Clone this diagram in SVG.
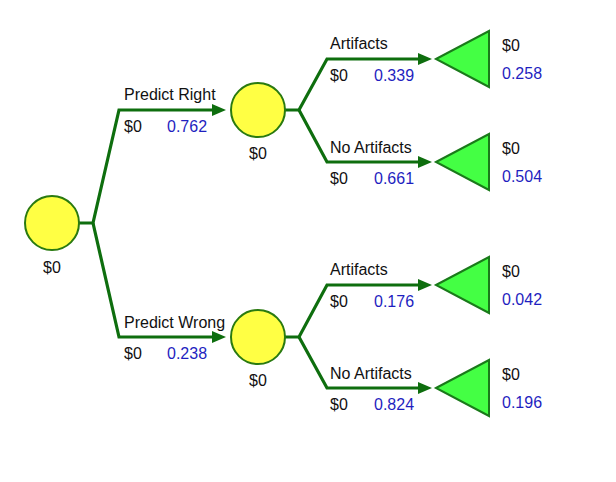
<svg xmlns="http://www.w3.org/2000/svg" width="616" height="482" viewBox="0 0 616 482">
<style>
.edge{fill:none;stroke:#0e6e0e;stroke-width:3.2;stroke-linejoin:miter}
.chance{fill:#ffff44;stroke:#2a7a10;stroke-width:2}
.term{fill:#44ff44;stroke:#1a7a1a;stroke-width:2}
text{font-family:"Liberation Sans",Arial,sans-serif;font-size:16px}
.k{fill:#111}
.p{fill:#1f1fbf}
.c{text-anchor:middle}
</style>
<defs>
<marker id="arr" markerUnits="userSpaceOnUse" markerWidth="14" markerHeight="12" refX="0" refY="6" orient="auto">
<path d="M0,0 L14,6 L0,12 z" fill="#0e6e0e"/>
</marker>
</defs>
<rect width="616" height="482" fill="#fff"/>
<g id="connectors">
<path class="edge" marker-end="url(#arr)" d="M79,223 H93 L119,110 H212"/>
<path class="edge" marker-end="url(#arr)" d="M93,223 L119,337 H212"/>
<path class="edge" marker-end="url(#arr)" d="M285,110 H299 L327,59 H418"/>
<path class="edge" marker-end="url(#arr)" d="M299,110 L327,162 H418"/>
<path class="edge" marker-end="url(#arr)" d="M285,337 H299 L327,285 H418"/>
<path class="edge" marker-end="url(#arr)" d="M299,337 L327,388 H418"/>
<text class="k" x="124" y="100">Predict Right</text>
<text class="k" x="124" y="132">$0</text>
<text class="p" x="167" y="132">0.762</text>
<text class="k" x="124" y="328">Predict Wrong</text>
<text class="k" x="124" y="359">$0</text>
<text class="p" x="167" y="359">0.238</text>
<text class="k" x="330" y="49">Artifacts</text>
<text class="k" x="330" y="81">$0</text>
<text class="p" x="374" y="81">0.339</text>
<text class="k" x="330" y="153">No Artifacts</text>
<text class="k" x="330" y="184">$0</text>
<text class="p" x="374" y="184">0.661</text>
<text class="k" x="330" y="275">Artifacts</text>
<text class="k" x="330" y="307">$0</text>
<text class="p" x="374" y="307">0.176</text>
<text class="k" x="330" y="379">No Artifacts</text>
<text class="k" x="330" y="410">$0</text>
<text class="p" x="374" y="410">0.824</text>
</g>
<g id="root">
<circle class="chance" cx="52" cy="223" r="27"/>
<text class="k c" x="52" y="273">$0</text>
</g>
<g id="predict-right">
<circle class="chance" cx="258" cy="110" r="27"/>
<text class="k c" x="258" y="159">$0</text>
</g>
<g id="predict-wrong">
<circle class="chance" cx="258" cy="337" r="27"/>
<text class="k c" x="258" y="386">$0</text>
</g>
<g id="end-right-artifacts">
<polygon class="term" points="436,59 489,31 489,87"/>
<text class="k" x="502" y="51">$0</text>
<text class="p" x="502" y="79">0.258</text>
</g>
<g id="end-right-noartifacts">
<polygon class="term" points="436,162 489,134 489,190"/>
<text class="k" x="502" y="154">$0</text>
<text class="p" x="502" y="182">0.504</text>
</g>
<g id="end-wrong-artifacts">
<polygon class="term" points="436,285 489,257 489,313"/>
<text class="k" x="502" y="277">$0</text>
<text class="p" x="502" y="305">0.042</text>
</g>
<g id="end-wrong-noartifacts">
<polygon class="term" points="436,388 489,360 489,416"/>
<text class="k" x="502" y="380">$0</text>
<text class="p" x="502" y="408">0.196</text>
</g>
</svg>
